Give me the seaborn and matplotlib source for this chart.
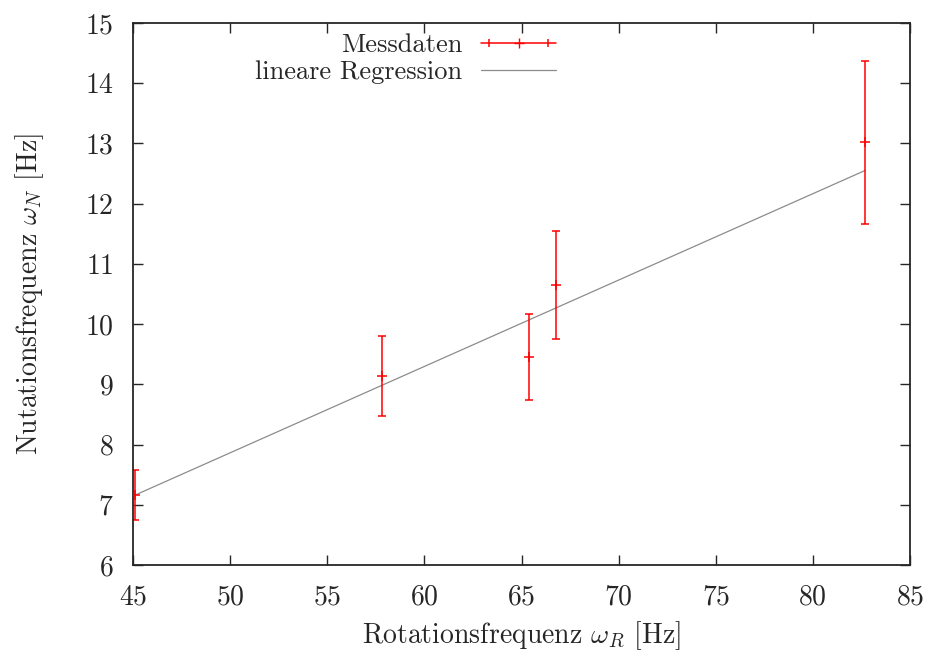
import numpy as np
import pandas as pd
import matplotlib
matplotlib.use("Agg")
import matplotlib.pyplot as plt
from matplotlib.lines import Line2D
from matplotlib.legend_handler import HandlerLine2D
import seaborn as sns

# Messdaten
omega_R = [45.1, 57.8, 65.4, 66.8, 82.7]
omega_N = [7.16, 9.14, 9.45, 10.65, 13.02]
omega_N_err = [0.41, 0.66, 0.71, 0.90, 1.35]

# lineare Regression (gewichteter Fit)
slope = 0.1434
intercept = 0.693

df = pd.DataFrame({"x": omega_R, "y": omega_N, "err": omega_N_err})
fit = pd.DataFrame({"x": [min(omega_R), max(omega_R)]})
fit["y"] = slope * fit["x"] + intercept

sns.set_style("ticks")
plt.rcParams["font.family"] = ["cmr10", "DejaVu Serif"]
plt.rcParams["mathtext.fontset"] = "cm"
plt.rcParams["axes.formatter.use_mathtext"] = True

fs = 20
fig = plt.figure(figsize=(9.33, 6.56), dpi=100)
ax = fig.add_axes([0.1426, 0.1387, 0.9753 - 0.1426, 0.965 - 0.1387])

sns.lineplot(data=fit, x="x", y="y", color="#8c8c8c", lw=0.9, ax=ax)
ax.errorbar(df["x"], df["y"], yerr=df["err"], fmt="none", ecolor="red",
            elinewidth=1.1, capsize=3, capthick=1.1)
sns.scatterplot(data=df, x="x", y="y", marker="+", color="red", s=50,
                linewidth=1.1, ax=ax, zorder=3)

ax.set_xlim(45, 85)
ax.set_ylim(6, 15)
ax.set_xticks(range(45, 86, 5))
ax.set_yticks(range(6, 16))
ax.tick_params(direction="in", length=7, width=1, labelsize=fs,
               top=True, right=True, pad=14)
for s in ax.spines.values():
    s.set_linewidth(1.3)
    s.set_visible(True)

ax.set_xlabel(r"Rotationsfrequenz $\omega_R$ [Hz]", fontsize=fs, labelpad=6)
ax.set_ylabel(r"Nutationsfrequenz $\omega_N$ [Hz]", fontsize=fs, labelpad=28)

mess_line = Line2D([0], [0], color="red", lw=1.1, marker="+", markersize=7)
mess_caps = Line2D([0], [0], color="red", lw=0, marker="|", markersize=6,
                   markeredgewidth=1.1)
reg_line = Line2D([0], [0], color="#8c8c8c", lw=0.9)
ax.legend([(mess_line, mess_caps), reg_line], ["Messdaten", "lineare Regression"],
          handler_map={mess_caps: HandlerLine2D(numpoints=2)},
          loc="upper left", bbox_to_anchor=(0.127, 1.024), frameon=False,
          markerfirst=False, fontsize=19, handlelength=2.85,
          labelspacing=0.12, handletextpad=0.7)

fig.savefig("out.png", dpi=100)
